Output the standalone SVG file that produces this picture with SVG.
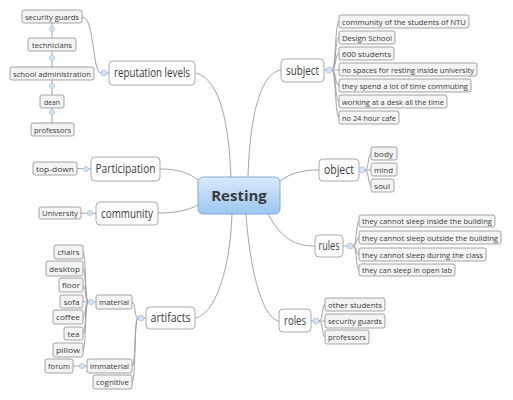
<svg xmlns="http://www.w3.org/2000/svg" width="513" height="400" viewBox="0 0 513 400">
<defs>
<linearGradient id="cg" x1="0" y1="0" x2="0" y2="1">
<stop offset="0" stop-color="#dbeafb"/>
<stop offset="1" stop-color="#9cc6f1"/>
</linearGradient>
</defs>
<style>
text{font-family:"Open Sans","DejaVu Sans",sans-serif;fill:#3a3a3a}
.leaf rect{fill:#f4f4f4;stroke:#8e8e8e;stroke-width:0.8}
.leaf text{font-size:8px}
.topic rect{fill:#fff;stroke:#a0a0a0;stroke-width:0.9}
.topic text{font-size:12px;text-anchor:middle}
.conn path{fill:none;stroke:#9a9a9a;stroke-width:0.9}
.dot{fill:#d4e3f6;stroke:#a9c4e8;stroke-width:0.8}
</style>
<rect width="513" height="400" fill="#fff"/>
<g class="conn">
<path d="M196,73 C222,80 229,130 231,177"/>
<path d="M281,70 C262,73 250,110 248,177"/>
<path d="M160,169 C180,169 190,174 198,180"/>
<path d="M158,213 C180,213 190,209 198,205"/>
<path d="M280,181 C292,172 305,170 319,170"/>
<path d="M268,214 C282,240 296,246 315,246"/>
<path d="M195,318 C215,315 230,270 232,214"/>
<path d="M279,321 C262,318 250,270 246,214"/>
<path d="M101,73 C92,73 95,17 82,17"/>
<path d="M104,73 L109,73"/>
<path d="M52,23 L52,123"/>
<path d="M324,70 L339,70"/>
<path d="M332,70 C336,70 335,21.5 339,21.5"/>
<path d="M332,70 C336,70 335,37.5 339,37.5"/>
<path d="M332,70 C336,70 335,53.5 339,53.5"/>
<path d="M332,70 C336,70 335,85.5 339,85.5"/>
<path d="M332,70 C336,70 335,101.5 339,101.5"/>
<path d="M332,70 C336,70 335,117.5 339,117.5"/>
<path d="M77,168.5 L91,169"/>
<path d="M81,213 L96,213.5"/>
<path d="M359,170 L371,170"/>
<path d="M365,170 C369,170 368,153.5 371,153.5"/>
<path d="M365,170 C369,170 368,185.5 371,185.5"/>
<path d="M343,246 L350,246"/>
<path d="M353,246 C357,246 356,221 359,221"/>
<path d="M353,246 C357,246 356,237.5 359,237.5"/>
<path d="M353,246 C357,246 356,254.5 359,254.5"/>
<path d="M353,246 C357,246 356,270 359,270"/>
<path d="M311,321 L325,321"/>
<path d="M319,321 C323,321 322,304.5 325,304.5"/>
<path d="M319,321 C323,321 322,337 325,337"/>
<path d="M141,318 L146,318"/>
<path d="M138,318 C134,318 136,302 132,302"/>
<path d="M138,318 C134,318 136,366 132,366"/>
<path d="M138,318 C134,318 136,382 132,382"/>
<path d="M91,302 L96,302"/>
<path d="M88,302 C85,302 86,252 83,252"/>
<path d="M88,302 C85,302 86,268.5 83,268.5"/>
<path d="M88,302 C85,302 86,285 83,285"/>
<path d="M88,302 L83,301.5"/>
<path d="M88,302 C85,302 86,317 83,317"/>
<path d="M88,302 C85,302 86,333.5 83,333.5"/>
<path d="M88,302 C85,302 86,350 83,350"/>
<path d="M73,366 L87,366"/>
</g>
<g id="center">
<rect x="198" y="177" width="82" height="37" rx="5" fill="url(#cg)" stroke="#7faad9" stroke-width="1"/>
<text x="239" y="201" font-size="15" font-weight="bold" text-anchor="middle" fill="#333">Resting</text>
</g>
<g id="reputation" class="topic"><rect x="109" y="61" width="86" height="24" rx="4"/><text x="152" y="77" textLength="76" lengthAdjust="spacingAndGlyphs">reputation levels</text></g>
<g id="subject" class="topic"><rect x="281" y="59" width="43" height="23" rx="4"/><text x="302.5" y="74.5" textLength="33" lengthAdjust="spacingAndGlyphs">subject</text></g>
<g id="participation" class="topic"><rect x="91" y="157" width="69" height="24" rx="4"/><text x="125.5" y="173" textLength="60" lengthAdjust="spacingAndGlyphs">Participation</text></g>
<g id="community" class="topic"><rect x="96" y="202" width="62" height="23" rx="4"/><text x="127" y="217.5" textLength="52" lengthAdjust="spacingAndGlyphs">community</text></g>
<g id="object" class="topic"><rect x="319" y="159" width="40" height="22" rx="4"/><text x="339" y="174" textLength="30" lengthAdjust="spacingAndGlyphs">object</text></g>
<g id="rules" class="topic"><rect x="315" y="235" width="28" height="22" rx="4"/><text x="329" y="250" textLength="21" lengthAdjust="spacingAndGlyphs">rules</text></g>
<g id="artifacts" class="topic"><rect x="146" y="307" width="49" height="22" rx="4"/><text x="170.5" y="322" textLength="40" lengthAdjust="spacingAndGlyphs">artifacts</text></g>
<g id="roles" class="topic"><rect x="279" y="309" width="32" height="23" rx="4"/><text x="295" y="324.5" textLength="22" lengthAdjust="spacingAndGlyphs">roles</text></g>
<g id="rep-security" class="leaf"><rect x="22" y="10" width="60" height="13" rx="2"/><text x="25" y="19.5" textLength="54" lengthAdjust="spacingAndGlyphs">security guards</text></g>
<g id="rep-technicians" class="leaf"><rect x="28" y="38" width="48" height="13" rx="2"/><text x="32" y="47.5" textLength="40" lengthAdjust="spacingAndGlyphs">technicians</text></g>
<g id="rep-school" class="leaf"><rect x="10" y="67" width="84" height="13" rx="2"/><text x="13" y="76.5" textLength="78" lengthAdjust="spacingAndGlyphs">school administration</text></g>
<g id="rep-dean" class="leaf"><rect x="40" y="95" width="24" height="13" rx="2"/><text x="44" y="104.5" textLength="16" lengthAdjust="spacingAndGlyphs">dean</text></g>
<g id="rep-professors" class="leaf"><rect x="31" y="123" width="43" height="13" rx="2"/><text x="34" y="132.5" textLength="37" lengthAdjust="spacingAndGlyphs">professors</text></g>
<g id="sub-1" class="leaf"><rect x="339" y="15" width="130" height="13" rx="2"/><text x="342" y="24.5" textLength="124" lengthAdjust="spacingAndGlyphs">community of the students of NTU</text></g>
<g id="sub-2" class="leaf"><rect x="339" y="31" width="56" height="13" rx="2"/><text x="342" y="40.5" textLength="50" lengthAdjust="spacingAndGlyphs">Design School</text></g>
<g id="sub-3" class="leaf"><rect x="339" y="47" width="55" height="13" rx="2"/><text x="342" y="56.5" textLength="49" lengthAdjust="spacingAndGlyphs">600 students</text></g>
<g id="sub-4" class="leaf"><rect x="339" y="63" width="138" height="13" rx="2"/><text x="342" y="72.5" textLength="132" lengthAdjust="spacingAndGlyphs">no spaces for resting inside university</text></g>
<g id="sub-5" class="leaf"><rect x="339" y="79" width="132" height="13" rx="2"/><text x="342" y="88.5" textLength="126" lengthAdjust="spacingAndGlyphs">they spend a lot of time commuting</text></g>
<g id="sub-6" class="leaf"><rect x="339" y="95" width="108" height="13" rx="2"/><text x="342" y="104.5" textLength="102" lengthAdjust="spacingAndGlyphs">working at a desk all the time</text></g>
<g id="sub-7" class="leaf"><rect x="339" y="111" width="60" height="13" rx="2"/><text x="342" y="120.5" textLength="54" lengthAdjust="spacingAndGlyphs">no 24 hour cafe</text></g>
<g id="par-topdown" class="leaf"><rect x="33" y="162" width="44" height="13" rx="2"/><text x="36" y="171.5" textLength="38" lengthAdjust="spacingAndGlyphs">top-down</text></g>
<g id="com-university" class="leaf"><rect x="39" y="207" width="42" height="12" rx="2"/><text x="42" y="216" textLength="36" lengthAdjust="spacingAndGlyphs">University</text></g>
<g id="obj-body" class="leaf"><rect x="371" y="147" width="26" height="13" rx="2"/><text x="374" y="156.5" textLength="19" lengthAdjust="spacingAndGlyphs">body</text></g>
<g id="obj-mind" class="leaf"><rect x="371" y="163" width="26" height="13" rx="2"/><text x="374" y="172.5" textLength="19" lengthAdjust="spacingAndGlyphs">mind</text></g>
<g id="obj-soul" class="leaf"><rect x="371" y="179" width="23" height="13" rx="2"/><text x="374" y="188.5" textLength="16" lengthAdjust="spacingAndGlyphs">soul</text></g>
<g id="rul-1" class="leaf"><rect x="359" y="215" width="136" height="12" rx="2"/><text x="362" y="224" textLength="130" lengthAdjust="spacingAndGlyphs">they cannot sleep inside the building</text></g>
<g id="rul-2" class="leaf"><rect x="359" y="231" width="142" height="13" rx="2"/><text x="362" y="240.5" textLength="136" lengthAdjust="spacingAndGlyphs">they cannot sleep outside the building</text></g>
<g id="rul-3" class="leaf"><rect x="359" y="248" width="127" height="13" rx="2"/><text x="362" y="257.5" textLength="121" lengthAdjust="spacingAndGlyphs">they cannot sleep during the class</text></g>
<g id="rul-4" class="leaf"><rect x="359" y="264" width="96" height="12" rx="2"/><text x="362" y="273" textLength="90" lengthAdjust="spacingAndGlyphs">they can sleep in open lab</text></g>
<g id="art-material" class="leaf"><rect x="96" y="295" width="36" height="14" rx="2"/><text x="99" y="305" textLength="30" lengthAdjust="spacingAndGlyphs">material</text></g>
<g id="art-immaterial" class="leaf"><rect x="87" y="359" width="45" height="14" rx="2"/><text x="90" y="369" textLength="39" lengthAdjust="spacingAndGlyphs">immaterial</text></g>
<g id="art-cognitive" class="leaf"><rect x="93" y="375" width="39" height="14" rx="2"/><text x="96" y="385" textLength="33" lengthAdjust="spacingAndGlyphs">cognitive</text></g>
<g id="imm-forum" class="leaf"><rect x="45" y="359" width="28" height="14" rx="2"/><text x="48" y="369" textLength="22" lengthAdjust="spacingAndGlyphs">forum</text></g>
<g id="mat-chairs" class="leaf"><rect x="54" y="245" width="29" height="14" rx="2"/><text x="57.5" y="255" textLength="22" lengthAdjust="spacingAndGlyphs">chairs</text></g>
<g id="mat-desktop" class="leaf"><rect x="46" y="261" width="37" height="15" rx="2"/><text x="49" y="271.5" textLength="31" lengthAdjust="spacingAndGlyphs">desktop</text></g>
<g id="mat-floor" class="leaf"><rect x="59" y="278" width="24" height="14" rx="2"/><text x="62" y="288" textLength="18" lengthAdjust="spacingAndGlyphs">floor</text></g>
<g id="mat-sofa" class="leaf"><rect x="60" y="295" width="23" height="13" rx="2"/><text x="63.5" y="304.5" textLength="16" lengthAdjust="spacingAndGlyphs">sofa</text></g>
<g id="mat-coffee" class="leaf"><rect x="53" y="310" width="30" height="14" rx="2"/><text x="56" y="320" textLength="24" lengthAdjust="spacingAndGlyphs">coffee</text></g>
<g id="mat-tea" class="leaf"><rect x="64" y="327" width="19" height="13" rx="2"/><text x="67.5" y="336.5" textLength="12" lengthAdjust="spacingAndGlyphs">tea</text></g>
<g id="mat-pillow" class="leaf"><rect x="53" y="343" width="30" height="14" rx="2"/><text x="56" y="353" textLength="24" lengthAdjust="spacingAndGlyphs">pillow</text></g>
<g id="rol-1" class="leaf"><rect x="325" y="298" width="60" height="13" rx="2"/><text x="328" y="307.5" textLength="54" lengthAdjust="spacingAndGlyphs">other students</text></g>
<g id="rol-2" class="leaf"><rect x="325" y="314" width="60" height="14" rx="2"/><text x="328" y="324" textLength="54" lengthAdjust="spacingAndGlyphs">security guards</text></g>
<g id="rol-3" class="leaf"><rect x="325" y="330" width="44" height="14" rx="2"/><text x="328" y="340" textLength="38" lengthAdjust="spacingAndGlyphs">professors</text></g>
<g id="markers">
<circle class="dot" cx="104" cy="73" r="3"/>
<circle class="dot" cx="52" cy="29" r="2.6"/>
<circle class="dot" cx="52" cy="58" r="2.6"/>
<circle class="dot" cx="52" cy="86" r="2.6"/>
<circle class="dot" cx="52" cy="112" r="2.6"/>
<circle class="dot" cx="329" cy="70" r="3"/>
<circle class="dot" cx="86" cy="169" r="2.6"/>
<circle class="dot" cx="90" cy="213" r="2.6"/>
<circle class="dot" cx="362" cy="170" r="3"/>
<circle class="dot" cx="350" cy="246" r="3"/>
<circle class="dot" cx="316" cy="321" r="3"/>
<circle class="dot" cx="141" cy="318" r="3"/>
<circle class="dot" cx="91" cy="302" r="2.6"/>
<circle class="dot" cx="82" cy="366" r="2.6"/>
</g>
</svg>
